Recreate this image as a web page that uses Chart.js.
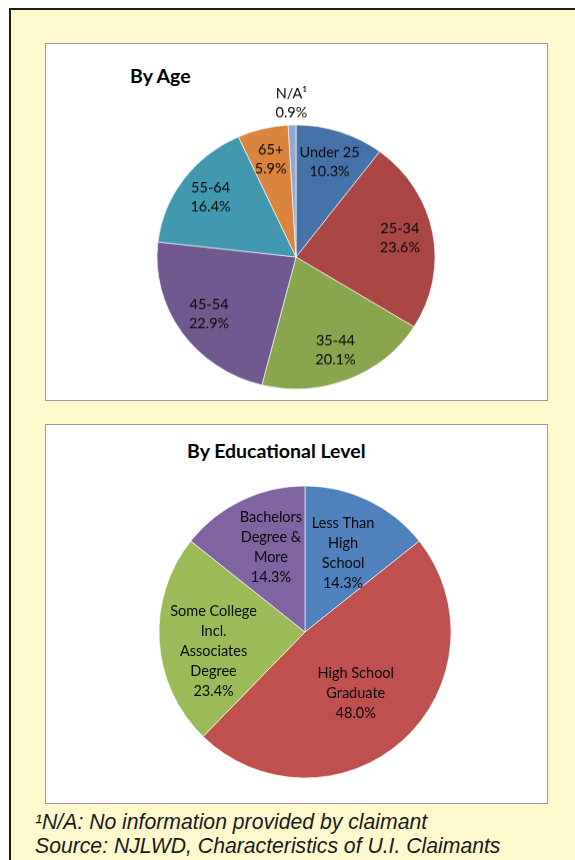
<!DOCTYPE html>
<html>
<head>
<meta charset="utf-8">
<script src="https://cdn.jsdelivr.net/npm/chart.js@4"></script>
<style>
  html, body { margin:0; padding:0; background:#fff; width:575px; height:860px; overflow:hidden; position:relative; }
  #outer { position:absolute; left:9px; top:8px; width:600px; height:900px; background:#FFFACD;
           border-left:2.5px solid #1e1e1e; border-top:2.5px solid #1e1e1e; box-sizing:border-box; }
  .panel { position:absolute; left:45px; width:503px; background:#fff; border:1px solid #9c9c9c; box-sizing:border-box; }
  #p1 { top:43px; height:358px; }
  #p2 { top:424px; height:380px; }
  .title { position:absolute; font-family:Lato, sans-serif; font-weight:bold; font-size:19.5px; line-height:1.2; color:#000; white-space:nowrap; }
  #t1 { left:130px; top:64px; }
  #t2 { left:187px; top:439px; }
  canvas { position:absolute; }
  #c1 { left:106px; top:67px; width:380px; height:380px; transform:scaleY(0.95); }
  #c2 { left:135px; top:462px; width:340px; height:340px; }
  .foot { position:absolute; left:35px; font-family:"Liberation Sans", Arial, sans-serif; font-style:italic; font-size:21.2px; line-height:21px; color:#1a1a1a; white-space:nowrap; }
  #f1 { top:811px; }
  #f2 { top:835px; }
</style>
</head>
<body>
<div id="outer"></div>
<div class="panel" id="p1"></div>
<div class="panel" id="p2"></div>
<div class="title" id="t1">By Age</div>
<div class="title" id="t2">By Educational Level</div>
<canvas id="c1" width="380" height="380"></canvas>
<canvas id="c2" width="340" height="340"></canvas>
<div class="foot" id="f1">¹N/A: No information provided by claimant</div>
<div class="foot" id="f2">Source: NJLWD, Characteristics of U.I. Claimants</div>
<script>
// ---- data ----
const ageCategories = ['Under 25', '25-34', '35-44', '45-54', '55-64', '65+', 'N/A¹'];
const ageValues = [10.3, 23.6, 20.1, 22.9, 16.4, 5.9, 0.9];
const ageColors = ['#4572A7', '#AA4643', '#89A54E', '#71588F', '#4198AF', '#DB843D', '#93A9CF'];

const eduCategories = ['Less Than\nHigh\nSchool', 'High School\nGraduate', 'Some College\nIncl.\nAssociates\nDegree', 'Bachelors\nDegree &\nMore'];
const eduValues = [14.3, 48.0, 23.4, 14.3];
const eduColors = ['#4F81BD', '#C0504D', '#9BBB59', '#8064A2'];

// ---- slice label plugin ----
const sliceLabels = {
  id: 'sliceLabels',
  afterDatasetsDraw(chart, args, opts) {
    const ctx = chart.ctx;
    const meta = chart.getDatasetMeta(0);
    const labels = chart.data.labels;
    const values = chart.data.datasets[0].data;
    ctx.save();
    ctx.font = opts.font;
    ctx.fillStyle = opts.color;
    ctx.textAlign = 'center';
    ctx.textBaseline = 'middle';
    meta.data.forEach((arc, i) => {
      const p = arc.getProps(['x', 'y', 'startAngle', 'endAngle', 'outerRadius'], true);
      const mid = (p.startAngle + p.endAngle) / 2;
      const f = (opts.outside || []).includes(i) ? opts.outsideFactor : opts.insideFactor;
      const nudge = (opts.nudge && opts.nudge[i]) || [0, 0];
      const px = p.x + Math.cos(mid) * p.outerRadius * f + nudge[0];
      const py = p.y + Math.sin(mid) * p.outerRadius * f + nudge[1];
      const lines = labels[i].split('\n').concat([values[i].toFixed(1) + '%']);
      const lh = opts.lineHeight;
      lines.forEach((t, k) => ctx.fillText(t, px, py + (k - (lines.length - 1) / 2) * lh));
    });
    ctx.restore();
  }
};

function makePie(id, cats, vals, cols, radius, labelOpts) {
  return new Chart(document.getElementById(id), {
    type: 'pie',
    data: {
      labels: cats,
      datasets: [{ data: vals, backgroundColor: cols, borderColor: 'rgba(255,255,255,0.8)', borderWidth: 0.8 }]
    },
    options: {
      responsive: false,
      animation: false,
      radius: radius,
      layout: { padding: 0 },
      plugins: {
        legend: { display: false },
        tooltip: { enabled: false },
        title: { display: false },
        sliceLabels: labelOpts
      }
    },
    plugins: [sliceLabels]
  });
}

makePie('c1', ageCategories, ageValues, ageColors, 139, {
  font: '14.5px Lato, sans-serif', color: '#0a0a0a', lineHeight: 20,
  insideFactor: 0.76, outsideFactor: 1.16, outside: [6]
});
makePie('c2', eduCategories, eduValues, eduColors, 146, {
  font: '14.5px Lato, sans-serif', color: '#0a0a0a', lineHeight: 20,
  insideFactor: 0.6, outsideFactor: 1.2, outside: [],
  nudge: [[0, 0], [-8, -4], [-4, 14], [4, -6]]
});
</script>
</body>
</html>
